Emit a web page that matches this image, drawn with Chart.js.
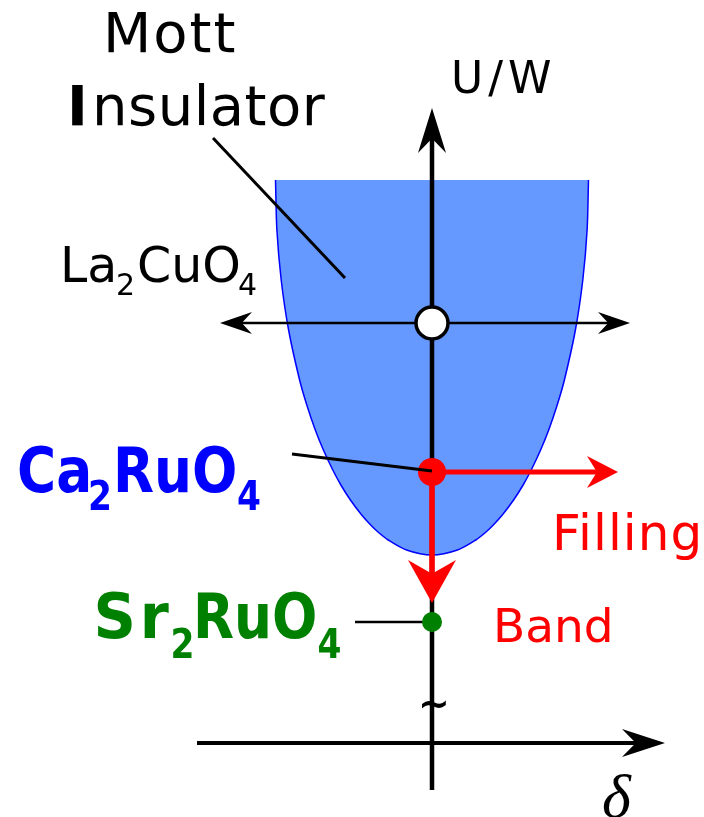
<!DOCTYPE html>
<html>
<head>
<meta charset="utf-8">
<script src="https://cdn.jsdelivr.net/npm/chart.js@4"></script>
<style>
  html, body { margin: 0; padding: 0; background: #fff; }
  canvas { display: block; }
</style>
</head>
<body>
<canvas id="c" width="704" height="817"></canvas>
<script>
// Schematic phase diagram: U/W (vertical) against filling δ (horizontal).

// Mott-insulating region: left-edge half-width at each U/W, top to bottom (mirrored for the right edge)
const mottEdgeU     = [5.64, 5.14, 4.64, 4.14, 3.64, 3.39, 3.14, 2.94, 2.74, 2.59, 2.44, 2.29, 2.19, 2.12, 2.04, 1.94, 1.89];
const mottEdgeHalfW = [1.565, 1.551, 1.508, 1.434, 1.324, 1.252, 1.167, 1.086, 0.992, 0.911, 0.816, 0.703, 0.613, 0.540, 0.438, 0.255, 0];

// Compounds placed on the δ = 0 line
const compounds  = ['La2CuO4', 'Ca2RuO4', 'Sr2RuO4'];
const compoundU  = [4.21, 2.72, 1.22];

// Axes: U/W axis at δ = 0 and δ axis at U/W = 0
const uAxisShaft     = [-0.46, 6.14];
const uAxisTip       = 6.36;
const deltaAxisShaft = [-2.35, 2.13];
const deltaAxisTip   = 2.33;
const deltaAxisU     = 0.01;
const axisBreakU     = 0.40;

// Doping sweep through La2CuO4
const dopingShaft = [-1.98, 1.84];
const dopingTips  = [-2.12, 1.98];

// Routes out of Ca2RuO4: filling control (along δ) and bandwidth control (down in U/W)
const fillingShaftEnd = 1.70;
const fillingTip      = 1.86;
const bandShaftEnd    = 1.62;
const bandTip         = 1.41;

// Leader lines from the text labels
const mottLeader = [[-2.19, 6.06], [-0.87, 4.66]];
const caLeader   = [[-1.40, 2.90], [0, 2.73]];
const srLeader   = [[-0.77, 1.22], [0, 1.22]];

const BLUE = 'rgb(0,0,255)', RED = 'rgb(255,0,0)', GREEN = 'rgb(0,128,0)';

// Build the closed boundary of the insulating region
const region = [];
mottEdgeU.forEach((u, i) => region.push({ x: -mottEdgeHalfW[i], y: u }));
for (let i = mottEdgeU.length - 2; i >= 0; i--) region.push({ x: mottEdgeHalfW[i], y: mottEdgeU[i] });

const seg = (a, b) => [{ x: a[0], y: a[1] }, { x: b[0], y: b[1] }];
const lineSet = (data, color, width, order) => ({
  type: 'line', data, borderColor: color, borderWidth: width, pointRadius: 0,
  fill: false, tension: 0, borderCapStyle: 'butt', order
});

// Arrow heads: tip, direction source, head length / half-width in px
const heads = [
  { tip: [0, uAxisTip], from: [0, uAxisShaft[0]], len: 45, half: 14, color: '#000' },
  { tip: [deltaAxisTip, deltaAxisU], from: [deltaAxisShaft[0], deltaAxisU], len: 43, half: 14, color: '#000' },
  { tip: [dopingTips[1], compoundU[0]], from: [0, compoundU[0]], len: 32, half: 11, color: '#000' },
  { tip: [dopingTips[0], compoundU[0]], from: [0, compoundU[0]], len: 32, half: 11, color: '#000' },
  { tip: [fillingTip, compoundU[1]], from: [0, compoundU[1]], len: 31, half: 16, color: RED },
  { tip: [0, bandTip], from: [0, compoundU[1]], len: 43, half: 24, color: RED }
];

const SANS = '"DejaVu Sans", sans-serif';
const BOLD = 'bold 62px "DejaVu Sans", sans-serif';
const SUBB = 'bold 41px "DejaVu Sans", sans-serif';

// Text pieces anchored in (δ, U/W); sx narrows the bold formula glyphs
const texts = [
  { t: 'Mott', x: -3.29, y: 6.92, font: '56px ' + SANS, color: '#000', ls: '2px' },
  { t: 'I', x: -3.65, y: 6.19, font: 'bold 56px ' + SANS, color: '#000' },
  { t: 'nsulator', x: -3.40, y: 6.19, font: '56px ' + SANS, color: '#000', ls: '0.5px' },
  { t: 'U/W', x: 0.19, y: 6.51, font: '44px ' + SANS, color: '#000', ls: '5px' },
  { t: 'La', x: -3.72, y: 4.62, font: '49px ' + SANS, color: '#000' },
  { t: '2', x: -3.16, y: 4.49, font: '30px ' + SANS, color: '#000' },
  { t: 'CuO', x: -2.95, y: 4.62, font: '49px ' + SANS, color: '#000' },
  { t: '4', x: -1.94, y: 4.49, font: '30px ' + SANS, color: '#000' },
  { t: 'Ca', x: -4.15, y: 2.52, font: BOLD, color: BLUE, sx: 0.86 },
  { t: '2', x: -3.44, y: 2.34, font: SUBB, color: BLUE, sx: 0.84 },
  { t: 'RuO', x: -3.19, y: 2.52, font: BOLD, color: BLUE, sx: 0.86 },
  { t: '4', x: -1.95, y: 2.34, font: SUBB, color: BLUE, sx: 0.84 },
  { t: 'Sr', x: -3.385, y: 1.06, font: BOLD, color: GREEN, sx: 0.95, ls: '4px' },
  { t: '2', x: -2.615, y: 0.86, font: SUBB, color: GREEN, sx: 0.84 },
  { t: 'RuO', x: -2.39, y: 1.06, font: BOLD, color: GREEN, sx: 0.86 },
  { t: '4', x: -1.145, y: 0.86, font: SUBB, color: GREEN, sx: 0.84 },
  { t: 'Filling', x: 1.20, y: 1.94, font: '50px ' + SANS, color: RED, ls: '1px' },
  { t: 'Band', x: 0.61, y: 1.02, font: '47px ' + SANS, color: RED },
  { t: 'δ', x: 1.70, y: -0.73, font: 'italic 62px "Liberation Serif", serif', color: '#000' },
  { t: '~', x: 0.02, y: axisBreakU - 0.12, font: 'bold 38px ' + SANS, color: '#000', align: 'center' }
];

const decor = {
  id: 'decor',
  afterDatasetsDraw(chart) {
    const { ctx, scales: { x, y } } = chart;
    const P = (p) => ({ x: x.getPixelForValue(p[0]), y: y.getPixelForValue(p[1]) });
    heads.forEach(h => {
      const tip = P(h.tip), from = P(h.from);
      const a = Math.atan2(tip.y - from.y, tip.x - from.x);
      ctx.save();
      ctx.translate(tip.x, tip.y);
      ctx.rotate(a);
      ctx.beginPath();
      ctx.moveTo(0, 0);
      ctx.lineTo(-h.len, -h.half);
      ctx.lineTo(-h.len * 0.68, 0);
      ctx.lineTo(-h.len, h.half);
      ctx.closePath();
      ctx.fillStyle = h.color;
      ctx.fill();
      ctx.restore();
    });
    texts.forEach(s => {
      const p = P([s.x, s.y]);
      ctx.save();
      ctx.font = s.font;
      ctx.fillStyle = s.color;
      ctx.textAlign = s.align || 'left';
      ctx.textBaseline = 'alphabetic';
      if (s.ls) ctx.letterSpacing = s.ls;
      ctx.translate(p.x, p.y);
      if (s.sx) ctx.scale(s.sx, 1);
      ctx.fillText(s.t, 0, 0);
      ctx.restore();
    });
  }
};

new Chart(document.getElementById('c'), {
  type: 'scatter',
  data: {
    datasets: [
      // Ca2RuO4 leader sits over its marker
      lineSet(seg(caLeader[0], caLeader[1]), '#000', 3, 0),
      {
        type: 'scatter', label: 'compounds',
        data: compounds.map((c, i) => ({ x: 0, y: compoundU[i] })),
        pointRadius: [16, 14, 10],
        pointBackgroundColor: ['#fff', RED, GREEN],
        pointBorderColor: ['#000', RED, GREEN],
        pointBorderWidth: [3.5, 0, 0],
        order: 1
      },
      lineSet(seg([0, compoundU[1]], [fillingShaftEnd, compoundU[1]]), RED, 5, 2),
      lineSet(seg([0, compoundU[1]], [0, bandShaftEnd]), RED, 5.5, 2),
      lineSet(seg([0, uAxisShaft[0]], [0, uAxisShaft[1]]), '#000', 4.5, 3),
      lineSet(seg([deltaAxisShaft[0], deltaAxisU], [deltaAxisShaft[1], deltaAxisU]), '#000', 4, 3),
      lineSet(seg([dopingShaft[0], compoundU[0]], [dopingShaft[1], compoundU[0]]), '#000', 2.5, 3),
      lineSet(seg(mottLeader[0], mottLeader[1]), '#000', 3, 3),
      lineSet(seg(srLeader[0], srLeader[1]), '#000', 2.5, 3),
      {
        type: 'line', label: 'Mott insulator', data: region,
        borderColor: BLUE, borderWidth: 1.5, backgroundColor: 'rgb(102,153,255)',
        fill: 'shape', tension: 0.3, pointRadius: 0, order: 5
      }
    ]
  },
  options: {
    responsive: false,
    animation: false,
    events: [],
    layout: { padding: 0, autoPadding: false },
    scales: {
      x: { type: 'linear', min: -4.32, max: 2.72, display: false },
      y: { type: 'linear', min: -0.73, max: 7.44, display: false }
    },
    plugins: { legend: { display: false }, tooltip: { enabled: false } }
  },
  plugins: [decor]
});
</script>
</body>
</html>
